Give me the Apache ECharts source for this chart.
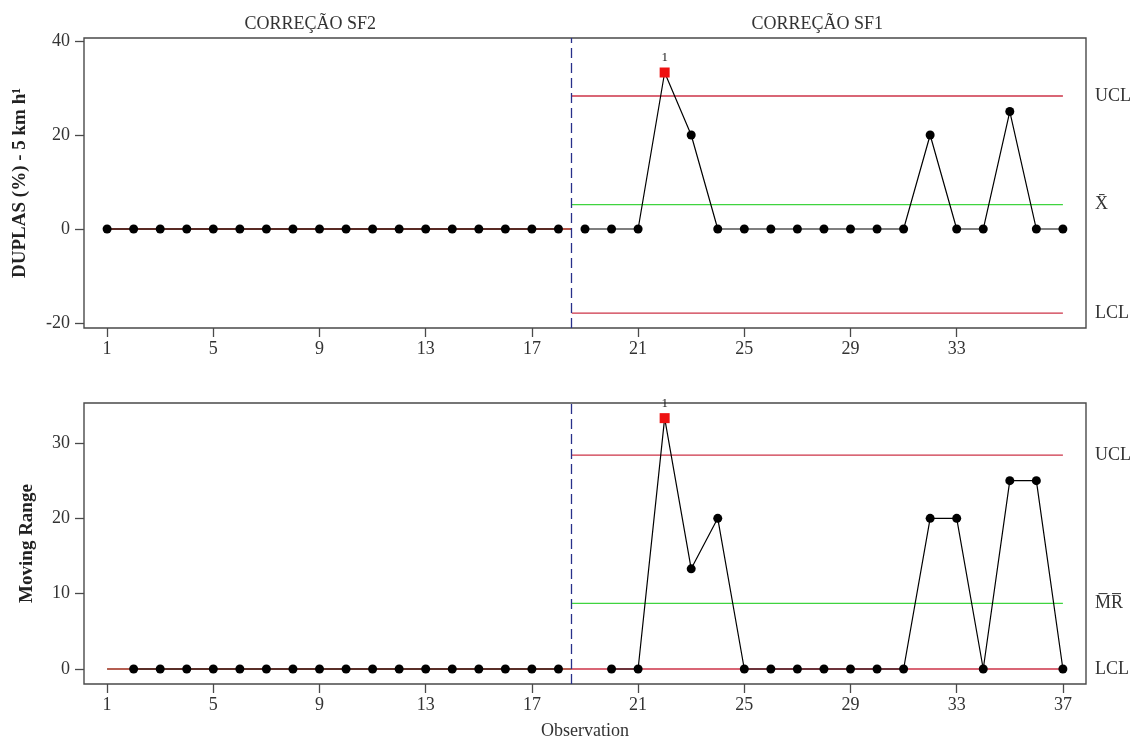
<!DOCTYPE html>
<html>
<head>
<meta charset="utf-8">
<script src="https://cdn.jsdelivr.net/npm/echarts@6/dist/echarts.min.js"></script>
<style>
  html, body { margin: 0; padding: 0; background: #fff; }
  #chart { width: 1137px; height: 742px; }
</style>
</head>
<body>
<div id="chart"></div>
<script>
// Observations per stage
const obsSF2 = [1, 2, 3, 4, 5, 6, 7, 8, 9, 10, 11, 12, 13, 14, 15, 16, 17, 18];
const obsSF1 = [19, 20, 21, 22, 23, 24, 25, 26, 27, 28, 29, 30, 31, 32, 33, 34, 35, 36, 37];

// Individual values, DUPLAS (%) - 5 km h¹
const indivSF2 = [0, 0, 0, 0, 0, 0, 0, 0, 0, 0, 0, 0, 0, 0, 0, 0, 0, 0];
const indivSF1 = [0, 0, 0, 33.3, 20, 0, 0, 0, 0, 0, 0, 0, 0, 20, 0, 0, 25, 0, 0];

// Moving ranges (first observation of each stage has none)
const mrObsSF2 = [2, 3, 4, 5, 6, 7, 8, 9, 10, 11, 12, 13, 14, 15, 16, 17, 18];
const mrSF2 = [0, 0, 0, 0, 0, 0, 0, 0, 0, 0, 0, 0, 0, 0, 0, 0, 0];
const mrObsSF1 = [20, 21, 22, 23, 24, 25, 26, 27, 28, 29, 30, 31, 32, 33, 34, 35, 36, 37];
const mrSF1 = [0, 0, 33.3, 13.3, 20, 0, 0, 0, 0, 0, 0, 0, 20, 20, 0, 25, 25, 0];

// Control limits per stage
const limitsI = { SF2: { ucl: 0, center: 0, lcl: 0 }, SF1: { ucl: 28.3, center: 5.2, lcl: -17.9 } };
const limitsMR = { SF2: { ucl: 0, center: 0, lcl: 0 }, SF1: { ucl: 28.4, center: 8.7, lcl: 0 } };

// Axis ticks
const xTicksTop = [1, 5, 9, 13, 17, 21, 25, 29, 33];
const xTicksBottom = [1, 5, 9, 13, 17, 21, 25, 29, 33, 37];
const yTicksTop = [-20, 0, 20, 40];
const yTicksBottom = [0, 10, 20, 30];

const stageNames = ['CORREÇÃO SF2', 'CORREÇÃO SF1'];

const FONT = '"Liberation Serif", "Times New Roman", serif';
const TXT = '#333';
const RED = '#cc3347';
const GREEN = '#3fd43f';
const BORDER = '#4a4a4a';

const split = (obsSF2[obsSF2.length - 1] + obsSF1[0]) / 2;
const xStart = obsSF2[0];
const xEnd = obsSF1[obsSF1.length - 1];

function points(xs, ys, ucl) {
  return xs.map((x, i) => {
    const y = ys[i];
    if (y > ucl) {
      return {
        value: [x, y],
        symbol: 'rect',
        symbolSize: 10,
        itemStyle: { color: '#ee1111' },
        label: { show: true, position: 'top', distance: 3, formatter: '1',
                 fontFamily: FONT, fontSize: 13, color: '#222' }
      };
    }
    return { value: [x, y] };
  });
}

function dataSeries(grid, xs, ys, ucl) {
  return {
    type: 'line', xAxisIndex: grid, yAxisIndex: grid,
    data: points(xs, ys, ucl),
    symbol: 'circle', symbolSize: 9,
    itemStyle: { color: '#000' },
    lineStyle: { color: '#000', width: 1.2 },
    z: 5, silent: true
  };
}

function limitSeries(grid, x0, x1, v, color, text) {
  const s = {
    type: 'line', xAxisIndex: grid, yAxisIndex: grid,
    data: [[x0, v], [x1, v]],
    symbol: 'none',
    lineStyle: { color: color, width: 1.3 },
    z: 2, silent: true
  };
  if (text) {
    s.endLabel = { show: true, formatter: text, distance: 32,
                   fontFamily: FONT, fontSize: 18, color: TXT };
  }
  return s;
}

function xAxis(grid, ticks, withName) {
  const a = {
    type: 'value', gridIndex: grid, min: 0.13, max: 37.87,
    axisLine: { show: false, onZero: false },
    axisTick: { show: true, inside: false, customValues: ticks, length: 9, lineStyle: { color: BORDER, width: 1.3 } },
    axisLabel: { customValues: ticks, margin: 12, fontFamily: FONT, fontSize: 18, color: TXT },
    splitLine: { show: false }
  };
  if (withName) {
    a.name = 'Observation';
    a.nameLocation = 'middle';
    a.nameGap = 38;
    a.nameTextStyle = { fontFamily: FONT, fontSize: 18, color: TXT };
  }
  return a;
}

function yAxis(grid, min, max, ticks, name, gap) {
  return {
    type: 'value', gridIndex: grid, min: min, max: max,
    axisLine: { show: false, onZero: false },
    axisTick: { show: true, inside: false, customValues: ticks, length: 9, lineStyle: { color: BORDER, width: 1.3 } },
    axisLabel: { customValues: ticks, margin: 14, fontFamily: FONT, fontSize: 18, color: TXT },
    splitLine: { show: false },
    name: name, nameLocation: 'middle', nameGap: gap,
    nameTextStyle: { fontFamily: FONT, fontSize: 19, fontWeight: 'bold', color: '#222' }
  };
}

const chart = echarts.init(document.getElementById('chart'), null, { renderer: 'canvas' });

const series = [
  // stage SF2 limits (all at zero)
  limitSeries(0, xStart, split, limitsI.SF2.ucl, RED),
  limitSeries(0, xStart, split, limitsI.SF2.center, GREEN),
  limitSeries(0, xStart, split, limitsI.SF2.lcl, RED),
  // stage SF1 limits
  limitSeries(0, split, xEnd, limitsI.SF1.ucl, RED, 'UCL'),
  limitSeries(0, split, xEnd, limitsI.SF1.center, GREEN, 'X\u0304'),
  limitSeries(0, split, xEnd, limitsI.SF1.lcl, RED, 'LCL'),
  limitSeries(1, xStart, split, limitsMR.SF2.center, GREEN),
  limitSeries(1, xStart, split, limitsMR.SF2.ucl, RED),
  limitSeries(1, split, xEnd, limitsMR.SF1.ucl, RED, 'UCL'),
  limitSeries(1, split, xEnd, limitsMR.SF1.center, GREEN, 'M\u0305R\u0305'),
  limitSeries(1, split, xEnd, limitsMR.SF1.lcl, RED, 'LCL'),
  // data
  dataSeries(0, obsSF2, indivSF2, limitsI.SF2.ucl === 0 ? Infinity : limitsI.SF2.ucl),
  dataSeries(0, obsSF1, indivSF1, limitsI.SF1.ucl),
  dataSeries(1, mrObsSF2, mrSF2, limitsMR.SF2.ucl === 0 ? Infinity : limitsMR.SF2.ucl),
  dataSeries(1, mrObsSF1, mrSF1, limitsMR.SF1.ucl)
];

// stage separators
[0, 1].forEach(g => {
  series.push({
    type: 'line', xAxisIndex: g, yAxisIndex: g, data: [], silent: true,
    markLine: {
      symbol: 'none', silent: true, animation: false,
      label: { show: false },
      lineStyle: { color: '#28308a', type: [10, 5], width: 1.3 },
      data: [{ xAxis: split }]
    }
  });
});

chart.setOption({
  animation: false,
  backgroundColor: '#fff',
  grid: [
    { left: 84, top: 38, width: 1002, height: 290, show: true, borderColor: BORDER, borderWidth: 1.4, backgroundColor: 'transparent' },
    { left: 84, top: 403, width: 1002, height: 281, show: true, borderColor: BORDER, borderWidth: 1.4, backgroundColor: 'transparent' }
  ],
  xAxis: [xAxis(0, xTicksTop, false), xAxis(1, xTicksBottom, true)],
  yAxis: [
    yAxis(0, -21.06, 40.64, yTicksTop, 'DUPLAS (%) - 5 km h¹', 54),
    yAxis(1, -1.99, 35.31, yTicksBottom, 'Moving Range', 47)
  ],
  series: series
});

// stage titles above the top panel
const titleX = [8.65, (split + xEnd) / 2];
chart.setOption({
  graphic: stageNames.map((t, i) => ({
    type: 'text',
    x: chart.convertToPixel({ xAxisIndex: 0 }, titleX[i]),
    y: 24,
    style: { text: t, fontFamily: FONT, fontSize: 18, fill: TXT, align: 'center', verticalAlign: 'middle' }
  }))
});
</script>
</body>
</html>
